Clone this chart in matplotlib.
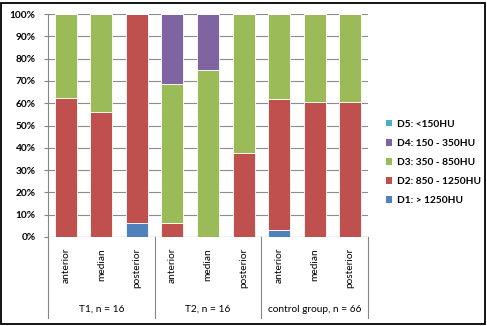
import matplotlib.pyplot as plt
from matplotlib.patches import Patch, Rectangle
import numpy as np

plt.rcParams['font.family'] = ['Lato', 'DejaVu Sans']

positions = ['anterior', 'median', 'posterior'] * 3
groups = ['T1, n = 16', 'T2, n = 16', 'control group, n = 66']

# percentages per bar, bottom to top
d1 = [0, 0, 6.25, 0, 0, 0, 3.0, 0, 0]
d2 = [62.5, 56.25, 93.75, 6.25, 0, 37.5, 59.1, 60.6, 60.6]
d3 = [37.5, 43.75, 0, 62.5, 75.0, 62.5, 37.9, 39.4, 39.4]
d4 = [0, 0, 0, 31.25, 25.0, 0, 0, 0, 0]
d5 = [0, 0, 0, 0, 0, 0, 0, 0, 0]

series = [
    ('D1: > 1250HU', d1, '#4F81BD'),
    ('D2: 850 - 1250HU', d2, '#C0504D'),
    ('D3: 350 - 850HU', d3, '#9BBB59'),
    ('D4: 150 - 350HU', d4, '#8064A2'),
    ('D5: <150HU', d5, '#4BACC6'),
]

W, H = 487, 326
fig = plt.figure(figsize=(W / 100, H / 100), dpi=100)
ax = fig.add_axes([48 / W, 89 / H, 320 / W, 223 / H])

x = np.arange(len(positions))
bottom = np.zeros(len(positions))
for label, vals, color in series:
    vals = np.array(vals, dtype=float)
    ax.bar(x, vals, 0.62, bottom=bottom, color=color, edgecolor='white',
           linewidth=0.6, zorder=3)
    bottom += vals

ax.set_xlim(-0.5, len(positions) - 0.5)
ax.set_ylim(0, 100)
ax.set_yticks(range(0, 101, 10))
ax.set_yticklabels([f'{v}%' for v in range(0, 101, 10)], fontsize=7.3, fontweight='bold')
ax.tick_params(axis='y', length=3, color='#868686', pad=6)
ax.set_xticks([])
ax.grid(axis='y', color='#8c8c8c', linewidth=0.8, zorder=0)
for s in ['top', 'right', 'bottom']:
    ax.spines[s].set_visible(False)
ax.spines['left'].set_color('#868686')
ax.axhline(0, color='#868686', linewidth=0.8, zorder=4)

# hierarchical category axis
trans = ax.get_xaxis_transform()
for i, p in enumerate(positions):
    ax.text(i, -0.049, p, rotation=90, ha='center', va='top', fontsize=7.3,
            transform=trans, clip_on=False)
for g, name in enumerate(groups):
    ax.text(g * 3 + 1, -0.323, name, ha='center', va='center', fontsize=7.3,
            transform=trans, clip_on=False)
for xb in [-0.5, 2.5, 5.5, 8.5]:
    ax.plot([xb, xb], [0, -0.363], color='#868686', linewidth=0.8,
            transform=trans, clip_on=False)

handles = [Patch(facecolor=c, edgecolor='none', label=l) for l, _, c in series][::-1]
fig.legend(handles=handles, loc='center left', bbox_to_anchor=(377 / W, 0.5015),
           frameon=False, handlelength=0.6, handleheight=0.6, handletextpad=0.5,
           labelspacing=1.0, prop={'size': 7.3, 'weight': 'bold'})

fig.add_artist(Rectangle((1 / W, 2 / H), 484 / W, 321 / H, fill=False,
                         edgecolor='black', linewidth=1.3, transform=fig.transFigure))

fig.savefig('out.png', dpi=100)
